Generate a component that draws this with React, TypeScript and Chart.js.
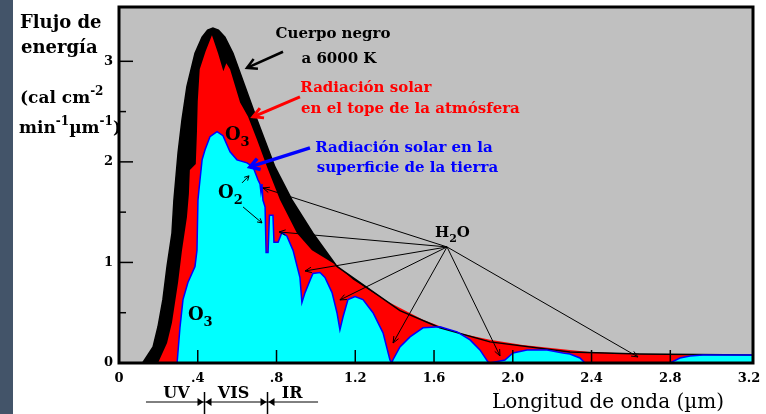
import React, { useEffect, useRef } from 'react';
import { Chart, registerables } from 'chart.js';

Chart.register(...registerables);

// ---- data (wavelength in µm, energy flux in cal cm^-2 min^-1 µm^-1) ----
const blackbodyX = [0.12, 0.173, 0.198, 0.223, 0.244, 0.269, 0.279, 0.3, 0.32, 0.345, 0.386, 0.422, 0.45, 0.477, 0.505, 0.538, 0.579, 0.64, 0.701, 0.792, 0.879, 0.985, 1.107, 1.275, 1.427, 1.63, 1.884, 2.29, 2.646, 3.22];
const blackbodyY = [0, 0.16, 0.36, 0.63, 0.96, 1.29, 1.62, 2.09, 2.42, 2.75, 3.08, 3.24, 3.31, 3.33, 3.31, 3.24, 3.08, 2.75, 2.42, 1.95, 1.62, 1.29, 0.96, 0.73, 0.52, 0.35, 0.21, 0.11, 0.09, 0.08];

const toaX = [0.198, 0.244, 0.269, 0.3, 0.32, 0.345, 0.355, 0.36, 0.39, 0.396, 0.4, 0.41, 0.44, 0.472, 0.503, 0.53, 0.545, 0.564, 0.615, 0.655, 0.701, 0.752, 0.818, 0.904, 0.98, 1.107, 1.188, 1.29, 1.376, 1.544, 1.717, 1.884, 2.05, 2.29, 2.39, 2.646, 2.9, 3.22];
const toaY = [0, 0.2, 0.4, 0.8, 1.12, 1.45, 1.68, 1.92, 1.98, 2.3, 2.6, 2.92, 3.1, 3.26, 3.08, 2.9, 2.98, 2.92, 2.59, 2.45, 2.22, 1.95, 1.62, 1.29, 1.12, 0.97, 0.83, 0.7, 0.6, 0.43, 0.3, 0.23, 0.18, 0.13, 0.11, 0.09, 0.08, 0.08];

const surfaceX = [0.295, 0.31, 0.325, 0.35, 0.386, 0.396, 0.401, 0.406, 0.422, 0.437, 0.462, 0.498, 0.528, 0.564, 0.599, 0.65, 0.681, 0.706, 0.716, 0.721, 0.726, 0.731, 0.742, 0.747, 0.757, 0.764, 0.767, 0.782, 0.787, 0.808, 0.828, 0.853, 0.884, 0.919, 0.929, 0.945, 0.97, 0.985, 1.021, 1.046, 1.082, 1.107, 1.122, 1.138, 1.163, 1.199, 1.239, 1.29, 1.341, 1.376, 1.386, 1.391, 1.427, 1.478, 1.544, 1.63, 1.717, 1.783, 1.833, 1.874, 1.884, 1.96, 2.001, 2.072, 2.174, 2.255, 2.29, 2.341, 2.367, 2.798, 2.849, 2.9, 2.966, 3.22];
const surfaceY = [0, 0.36, 0.63, 0.8, 0.96, 1.12, 1.62, 1.72, 2.02, 2.12, 2.25, 2.3, 2.26, 2.1, 2.02, 1.99, 1.95, 1.82, 1.78, 1.7, 1.78, 1.62, 1.55, 1.1, 1.1, 1.47, 1.47, 1.47, 1.2, 1.2, 1.3, 1.26, 1.12, 0.85, 0.6, 0.7, 0.82, 0.89, 0.9, 0.85, 0.7, 0.5, 0.33, 0.46, 0.63, 0.66, 0.63, 0.5, 0.3, 0.03, 0, 0.03, 0.16, 0.26, 0.35, 0.36, 0.31, 0.23, 0.13, 0.01, 0, 0.03, 0.1, 0.13, 0.13, 0.1, 0.09, 0.05, 0, 0, 0.05, 0.07, 0.08, 0.08];

const xTicks = [0, 0.4, 0.8, 1.2, 1.6, 2.0, 2.4, 2.8, 3.2];
const xTickLabels = ['0', '.4', '.8', '1.2', '1.6', '2.0', '2.4', '2.8', '3.2'];
const yTicks = [0, 1, 2, 3];
const yTickLabels = ['0', '1', '2', '3'];
const yMinorTicks = [0.5, 1.5, 2.5];

// H2O absorption-band pointers (data coordinates)
const h2oFrom = [1.666, 1.154];
const h2oTargets = [
  [0.731, 1.741], [0.813, 1.303], [0.945, 0.915], [1.122, 0.627],
  [1.392, 0.199], [1.935, 0.07], [2.636, 0.06],
];
// visible-band limits shown below the axis
const bandMarks = [0.43, 0.75];
const bandLabels = [['UV', 0.292], ['VIS', 0.582], ['IR', 0.879]];

const SERIF = '"DejaVu Serif", "Liberation Serif", serif';

const pts = (xs: number[], ys: number[]) => xs.map((x, i) => ({ x, y: ys[i] }));

function arrow(ctx: CanvasRenderingContext2D, x1: number, y1: number, x2: number, y2: number, color: string, width: number, head: number, ang = 0.45) {
  const a = Math.atan2(y2 - y1, x2 - x1);
  ctx.save();
  ctx.strokeStyle = color;
  ctx.lineWidth = width;
  ctx.lineCap = 'butt';
  ctx.lineJoin = 'miter';
  ctx.beginPath();
  ctx.moveTo(x1, y1);
  ctx.lineTo(x2, y2);
  ctx.stroke();
  ctx.beginPath();
  ctx.moveTo(x2 - head * Math.cos(a - ang), y2 - head * Math.sin(a - ang));
  ctx.lineTo(x2, y2);
  ctx.lineTo(x2 - head * Math.cos(a + ang), y2 - head * Math.sin(a + ang));
  ctx.stroke();
  ctx.restore();
}

// parts: [text, offset] where offset 0 normal, 1 subscript, -1 superscript
function richText(ctx: CanvasRenderingContext2D, parts: [string, number][], x: number, y: number, size: number, color: string, weight = 'bold') {
  ctx.save();
  ctx.fillStyle = color;
  ctx.textAlign = 'left';
  ctx.textBaseline = 'alphabetic';
  let cx = x;
  parts.forEach(([t, off]) => {
    const s = off === 0 ? size : Math.round(size * 0.7);
    ctx.font = `${weight} ${s}px ${SERIF}`;
    const dy = off === 1 ? size * 0.32 : off === -1 ? -size * 0.5 : 0;
    ctx.fillText(t, cx, y + dy);
    cx += ctx.measureText(t).width;
  });
  ctx.restore();
}

function centerText(ctx: CanvasRenderingContext2D, t: string, x: number, y: number, size: number, color: string, weight = 'bold') {
  ctx.save();
  ctx.fillStyle = color;
  ctx.font = `${weight} ${size}px ${SERIF}`;
  ctx.textAlign = 'center';
  ctx.textBaseline = 'alphabetic';
  ctx.fillText(t, x, y);
  ctx.restore();
}

const decor = {
  id: 'decor',
  beforeDraw(chart: any) {
    const { ctx, chartArea: a } = chart;
    ctx.save();
    ctx.fillStyle = '#ffffff';
    ctx.fillRect(0, 0, chart.width, chart.height);
    ctx.fillStyle = '#435469';
    ctx.fillRect(0, 0, 13, chart.height);
    ctx.fillStyle = '#c0c0c0';
    ctx.fillRect(a.left, a.top, a.width, a.height);
    ctx.restore();
  },
  afterDatasetsDraw(chart: any) {
    const { ctx, chartArea: a, scales } = chart;
    const X = (v: number) => scales.x.getPixelForValue(v);
    const Y = (v: number) => scales.y.getPixelForValue(v);
    ctx.save();
    // inward tick marks
    ctx.strokeStyle = '#000';
    ctx.lineWidth = 1.5;
    xTicks.forEach((v) => {
      if (v <= 0 || v >= 3.2) return;
      const p = X(v);
      ctx.beginPath();
      ctx.moveTo(p, a.bottom);
      ctx.lineTo(p, a.bottom - 13);
      ctx.stroke();
    });
    yTicks.forEach((v) => {
      if (v <= 0) return;
      const p = Y(v);
      ctx.beginPath();
      ctx.moveTo(a.left, p);
      ctx.lineTo(a.left + 14, p);
      ctx.stroke();
    });
    yMinorTicks.forEach((v) => {
      const p = Y(v);
      ctx.beginPath();
      ctx.moveTo(a.left, p);
      ctx.lineTo(a.left + 7, p);
      ctx.stroke();
    });
    ctx.restore();

    // H2O pointers
    h2oTargets.forEach(([tx, ty]) => arrow(ctx, X(h2oFrom[0]), Y(h2oFrom[1]), X(tx), Y(ty), '#000', 1, 7, 0.4));
    richText(ctx, [['H', 0], ['2', 1], ['O', 0]], X(1.605), Y(1.254), 15, '#000');

    // O2 / O3 labels
    richText(ctx, [['O', 0], ['3', 1]], X(0.538), Y(2.219), 18, '#000');
    richText(ctx, [['O', 0], ['2', 1]], X(0.503), Y(1.642), 18, '#000');
    richText(ctx, [['O', 0], ['3', 1]], X(0.35), Y(0.428), 18, '#000');
    arrow(ctx, X(0.625), Y(1.791), X(0.66), Y(1.861), '#000', 1, 5, 0.5);
    arrow(ctx, X(0.63), Y(1.552), X(0.726), Y(1.393), '#000', 1, 5, 0.5);

    // series captions
    centerText(ctx, 'Cuerpo negro', X(1.087), Y(3.234), 15, '#000');
    centerText(ctx, 'a 6000 K', X(1.117), Y(2.985), 15, '#000');
    arrow(ctx, X(0.833), Y(3.095), X(0.65), Y(2.935), '#000', 2.5, 11, 0.5);

    centerText(ctx, 'Radiación solar', X(1.254), Y(2.697), 15, '#ff0000');
    centerText(ctx, 'en el tope de la atmósfera', X(1.48), Y(2.488), 15, '#ff0000');
    arrow(ctx, X(0.919), Y(2.647), X(0.681), Y(2.448), '#ff0000', 3, 11, 0.5);

    centerText(ctx, 'Radiación solar en la', X(1.447), Y(2.099), 15, '#0000ff');
    centerText(ctx, 'superficie de la tierra', X(1.465), Y(1.9), 15, '#0000ff');
    arrow(ctx, X(0.97), Y(2.139), X(0.665), Y(1.95), '#0000ff', 3.5, 11, 0.55);

    // frame
    ctx.save();
    ctx.strokeStyle = '#000';
    ctx.lineWidth = 3;
    ctx.strokeRect(a.left, a.top, a.width, a.height);
    ctx.restore();
  },
  afterDraw(chart: any) {
    const { ctx, chartArea: a, scales } = chart;
    const X = (v: number) => scales.x.getPixelForValue(v);
    // y-axis title
    richText(ctx, [['Flujo de', 0]], 20, 28, 18, '#000');
    richText(ctx, [['energía', 0]], 21, 53, 18, '#000');
    richText(ctx, [['(cal cm', 0], ['-2', -1]], 20, 103, 17, '#000');
    richText(ctx, [['min', 0], ['-1', -1], ['µm', 0], ['-1', -1], [')', 0]], 19, 133, 17, '#000');
    // x-axis title
    centerText(ctx, 'Longitud de onda (µm)', 608, 408, 20, '#000', 'normal');

    // UV / VIS / IR band indicator
    const yl = a.bottom + 39;
    ctx.save();
    ctx.strokeStyle = '#000';
    ctx.fillStyle = '#000';
    ctx.lineWidth = 1;
    ctx.beginPath();
    ctx.moveTo(X(0.137), yl);
    ctx.lineTo(X(1.011), yl);
    ctx.stroke();
    bandMarks.forEach((v) => {
      const p = Math.round(X(v)) + 0.5;
      ctx.lineWidth = 1.5;
      ctx.beginPath();
      ctx.moveTo(p, a.bottom + 29);
      ctx.lineTo(p, a.bottom + 51);
      ctx.stroke();
      ctx.beginPath();
      ctx.moveTo(p - 7, yl - 4);
      ctx.lineTo(p - 1, yl);
      ctx.lineTo(p - 7, yl + 4);
      ctx.closePath();
      ctx.fill();
      ctx.beginPath();
      ctx.moveTo(p + 7, yl - 4);
      ctx.lineTo(p + 1, yl);
      ctx.lineTo(p + 7, yl + 4);
      ctx.closePath();
      ctx.fill();
    });
    ctx.restore();
    bandLabels.forEach(([t, v]) => centerText(ctx, t as string, X(v as number), a.bottom + 35, 16, '#000'));
  },
};

export default function App() {
  const ref = useRef<HTMLCanvasElement | null>(null);
  useEffect(() => {
    if (!ref.current) return;
    const chart = new Chart(ref.current, {
      type: 'line',
      data: {
        datasets: [
          {
            label: 'Radiación solar en la superficie de la tierra',
            data: pts(surfaceX, surfaceY),
            backgroundColor: '#00ffff',
            borderColor: '#0000ff',
            borderWidth: 1.5,
            fill: 'origin',
          },
          {
            label: 'Radiación solar en el tope de la atmósfera',
            data: pts(toaX, toaY),
            backgroundColor: '#ff0000',
            borderColor: '#ff0000',
            borderWidth: 0,
            fill: 'origin',
          },
          {
            label: 'Cuerpo negro a 6000 K',
            data: pts(blackbodyX, blackbodyY),
            backgroundColor: '#000000',
            borderColor: '#000000',
            borderWidth: 1.5,
            fill: 'origin',
          },
        ],
      },
      options: {
        responsive: false,
        animation: false,
        events: [],
        layout: { padding: { top: 7, right: 13, left: 0, bottom: 0 } },
        elements: { point: { radius: 0 }, line: { tension: 0 } },
        plugins: {
          legend: { display: false },
          tooltip: { enabled: false },
          filler: { drawTime: 'beforeDatasetsDraw' },
        },
        scales: {
          x: {
            type: 'linear',
            min: 0,
            max: 3.22,
            afterBuildTicks: (s: any) => { s.ticks = xTicks.map((v) => ({ value: v })); },
            afterFit: (s: any) => { s.height = 51; s.paddingLeft = 0; s.paddingRight = 0; },
            ticks: {
              autoSkip: false,
              maxRotation: 0,
              padding: 8,
              color: '#000',
              font: { family: SERIF, weight: 'bold', size: 13 },
              callback: (v: any) => xTickLabels[xTicks.indexOf(Number(v))] ?? '',
            },
            grid: { display: false, drawTicks: false },
            border: { display: false },
          },
          y: {
            type: 'linear',
            min: 0,
            max: 3.54,
            afterBuildTicks: (s: any) => { s.ticks = yTicks.map((v) => ({ value: v })); },
            afterFit: (s: any) => { s.width = 119; s.paddingTop = 0; s.paddingBottom = 0; },
            ticks: {
              padding: 6,
              color: '#000',
              font: { family: SERIF, weight: 'bold', size: 13 },
              callback: (v: any) => yTickLabels[yTicks.indexOf(Number(v))] ?? '',
            },
            grid: { display: false, drawTicks: false },
            border: { display: false },
          },
        },
      },
      plugins: [decor],
    } as any);
    return () => chart.destroy();
  }, []);
  return (
    <div style={{ position: 'fixed', left: 0, top: 0, width: 766, height: 414, background: '#fff' }}>
      <canvas ref={ref} width={766} height={414} style={{ display: 'block' }} />
    </div>
  );
}
